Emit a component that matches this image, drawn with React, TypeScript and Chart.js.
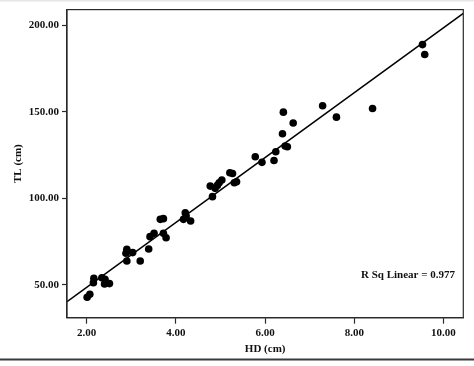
import React, { useEffect, useRef } from "react";
import { Chart, registerables } from "chart.js";

Chart.register(...registerables);

// HD (cm) values
const hdValues = [
  2.01, 2.07, 2.15, 2.16, 2.34, 2.41, 2.40, 2.51,
  2.90, 2.88, 3.03, 2.90, 3.20, 3.39, 3.42, 3.51,
  3.65, 3.72, 3.72, 3.78, 4.17, 4.21, 4.23, 4.33,
  4.77, 4.82, 4.88, 4.93, 4.97, 5.03, 5.21, 5.27,
  5.31, 5.36, 5.78, 5.93, 6.20, 6.24, 6.39, 6.41,
  6.45, 6.50, 6.63, 7.29, 7.60, 8.41, 9.53, 9.58,
];
// TL (cm) values
const tlValues = [
  42.9, 44.6, 51.3, 53.8, 54.2, 53.3, 50.6, 50.8,
  70.6, 68.3, 68.7, 63.8, 63.8, 70.8, 77.9, 79.8,
  87.9, 88.3, 79.8, 77.3, 87.9, 91.7, 89.8, 86.9,
  107.1, 101.0, 105.8, 107.5, 109.0, 110.6, 114.8, 114.4,
  109.0, 109.6, 124.0, 120.8, 121.9, 126.9, 137.3, 149.8,
  130.2, 129.8, 143.5, 153.5, 146.9, 151.9, 188.8, 183.1,
];

const xTicks = [2, 4, 6, 8, 10];
const yTicks = [50, 100, 150, 200];
const xRange = [1.558, 10.445];
const yRange = [31.1, 209.0];

// Linear fit
const fitIntercept = 11.2;
const fitSlope = 18.73;
const rSqLabel = "R Sq Linear = 0.977";

const FONT = '"Liberation Serif", "Times New Roman", serif';

export default function App() {
  const canvasRef = useRef<HTMLCanvasElement | null>(null);

  useEffect(() => {
    const canvas = canvasRef.current;
    if (!canvas) return;

    const points = hdValues.map((x, i) => ({ x, y: tlValues[i] }));
    const fitLine = xRange.map((x) => ({ x, y: fitIntercept + fitSlope * x }));

    const decor = {
      id: "decor",
      afterDraw(chart: any) {
        const { ctx, chartArea } = chart;
        ctx.save();
        // frame
        ctx.strokeStyle = "#2a2a2a";
        ctx.lineWidth = 1.2;
        ctx.strokeRect(
          chartArea.left,
          chartArea.top,
          chartArea.right - chartArea.left,
          chartArea.bottom - chartArea.top
        );
        // R Sq text
        ctx.fillStyle = "#111";
        ctx.font = `bold 11px ${FONT}`;
        ctx.textAlign = "right";
        ctx.textBaseline = "middle";
        ctx.fillText(rSqLabel, 455, 275);
        // page lines
        ctx.fillStyle = "#e6e6e6";
        ctx.fillRect(0, 0, chart.width, 1.5);
        ctx.fillStyle = "#3a3a3a";
        ctx.fillRect(0, 358.5, chart.width, 2);
        ctx.restore();
      },
    };

    const chart = new Chart(canvas, {
      type: "scatter",
      data: {
        datasets: [
          {
            type: "scatter",
            data: points,
            backgroundColor: "#000",
            borderColor: "#000",
            borderWidth: 0,
            pointRadius: 3.8,
            pointHoverRadius: 3.8,
          } as any,
          {
            type: "line",
            data: fitLine,
            borderColor: "#000",
            borderWidth: 1.6,
            pointRadius: 0,
            fill: false,
            tension: 0,
          } as any,
        ],
      },
      options: {
        animation: false,
        responsive: false,
        devicePixelRatio: 1,
        layout: { padding: { left: 0, top: 9.3, right: 10.7, bottom: 0 } },
        plugins: {
          legend: { display: false },
          tooltip: { enabled: false },
        },
        scales: {
          x: {
            type: "linear",
            min: xRange[0],
            max: xRange[1],
            afterBuildTicks: (scale: any) => {
              scale.ticks = xTicks.map((v) => ({ value: v }));
            },
            afterFit: (scale: any) => {
              scale.height = 48.3;
            },
            grid: {
              drawOnChartArea: false,
              drawTicks: true,
              tickLength: 6,
              tickWidth: 1.2,
              tickColor: "#2a2a2a",
            },
            border: { display: true, color: "#2a2a2a", width: 1.2 },
            ticks: {
              color: "#111",
              padding: 3,
              maxRotation: 0,
              font: { family: FONT, size: 11, weight: "bold" },
              callback: (v: any) => Number(v).toFixed(2),
            },
            title: {
              display: true,
              text: "HD (cm)",
              color: "#111",
              font: { family: FONT, size: 11, weight: "bold" },
              padding: { top: 0, bottom: 10.4 },
            },
          },
          y: {
            type: "linear",
            min: yRange[0],
            max: yRange[1],
            afterBuildTicks: (scale: any) => {
              scale.ticks = yTicks.map((v) => ({ value: v }));
            },
            afterFit: (scale: any) => {
              scale.width = 67;
            },
            grid: {
              drawOnChartArea: false,
              drawTicks: true,
              tickLength: 5,
              tickWidth: 1.2,
              tickColor: "#2a2a2a",
            },
            border: { display: true, color: "#2a2a2a", width: 1.2 },
            ticks: {
              color: "#111",
              padding: 3,
              font: { family: FONT, size: 11, weight: "bold" },
              callback: (v: any) => Number(v).toFixed(2),
            },
            title: {
              display: true,
              text: "TL (cm)",
              color: "#111",
              font: { family: FONT, size: 11, weight: "bold" },
              padding: { top: 11.4, bottom: 0 },
            },
          },
        },
      },
      plugins: [decor],
    });

    return () => {
      chart.destroy();
    };
  }, []);

  return (
    <div
      style={{
        position: "fixed",
        left: 0,
        top: 0,
        width: 474,
        height: 366,
        background: "#fff",
      }}
    >
      <canvas ref={canvasRef} width={474} height={366} style={{ display: "block" }} />
    </div>
  );
}
